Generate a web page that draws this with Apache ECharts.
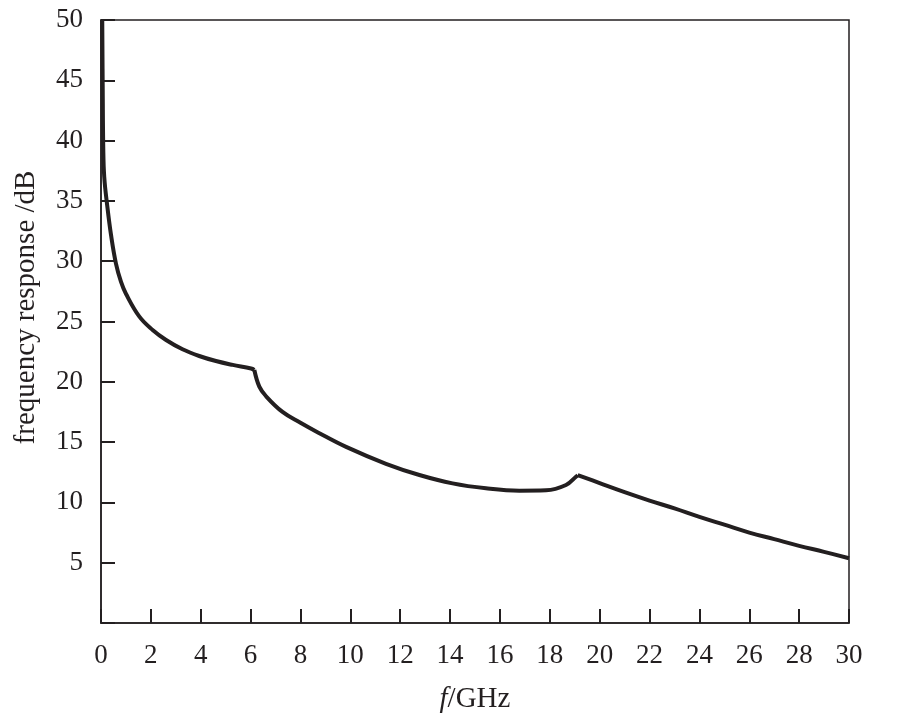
<!DOCTYPE html>
<html>
<head>
<meta charset="utf-8">
<script src="https://cdn.jsdelivr.net/npm/echarts@6/dist/echarts.min.js"></script>
<style>html,body{margin:0;padding:0;background:#fff;}#c{width:902px;height:720px;}</style>
</head>
<body>
<div id="c"></div>
<script>
const freqGHz = [0.05, 0.07, 0.09, 0.13, 0.25, 0.4, 0.6, 0.8, 1.0, 1.54, 2.07, 2.61, 3.27, 3.94, 4.61, 5.28, 6.02, 6.15,
  6.35, 6.62, 7.28, 8.0, 8.7, 9.83, 11.43, 12.77, 14.1, 15.44, 16.78, 17.85, 18.65, 19.05, 19.12,
  20, 21, 22, 23, 24, 25, 26, 27, 28, 29, 30];
const responseDB = [50, 44, 39.5, 37, 34.6, 32.2, 29.8, 28.3, 27.3, 25.4, 24.3, 23.47, 22.7, 22.14, 21.72, 21.4, 21.1, 20.98,
  19.6, 18.8, 17.5, 16.6, 15.8, 14.6, 13.2, 12.27, 11.58, 11.17, 10.97, 11.0, 11.44, 12.13, 12.27,
  11.6, 10.85, 10.15, 9.5, 8.8, 8.15, 7.5, 6.95, 6.4, 5.9, 5.37];
// frequencies where the curve has a sharp corner
const cornerFreqs = [6.15, 19.12];
const xTicks = [0, 2, 4, 6, 8, 10, 12, 14, 16, 18, 20, 22, 24, 26, 28, 30];
const yTicks = [5, 10, 15, 20, 25, 30, 35, 40, 45, 50];

const points = freqGHz.map((f, i) => [f, responseDB[i]]);
const segments = [];
let start = 0;
cornerFreqs.forEach(cf => {
  const idx = freqGHz.indexOf(cf);
  segments.push(points.slice(start, idx + 1));
  start = idx;
});
segments.push(points.slice(start));

const font = '"Liberation Serif", "DejaVu Serif", serif';
const chart = echarts.init(document.getElementById('c'));
chart.setOption({
  animation: false,
  backgroundColor: '#fff',
  grid: { left: 101, right: 53, top: 20, bottom: 97, show: true, borderColor: '#231f20', borderWidth: 1.5 },
  xAxis: {
    type: 'value', min: 0, max: 30, interval: 2,
    name: '{i|f}/GHz', nameLocation: 'middle', nameGap: 62,
    nameTextStyle: { fontFamily: font, fontSize: 29, color: '#231f20',
      rich: { i: { fontFamily: font, fontStyle: 'italic', fontSize: 29, color: '#231f20' } } },
    axisLine: { show: true, lineStyle: { color: '#231f20', width: 1.5 } },
    axisTick: { show: true, inside: true, length: 14, lineStyle: { color: '#231f20', width: 2 } },
    axisLabel: { fontFamily: font, fontSize: 27, color: '#231f20', margin: 19,
      formatter: v => xTicks.includes(v) ? String(v) : '' },
    splitLine: { show: false }
  },
  yAxis: {
    type: 'value', min: 0, max: 50, interval: 5,
    name: 'frequency response /dB', nameLocation: 'middle', nameGap: 60, nameRotate: 90,
    nameTextStyle: { fontFamily: font, fontSize: 29, color: '#231f20', padding: [0, 0, 0, 28] },
    axisLine: { show: true, lineStyle: { color: '#231f20', width: 1.5 } },
    axisTick: { show: true, inside: true, length: 14, lineStyle: { color: '#231f20', width: 2 } },
    axisLabel: { fontFamily: font, fontSize: 27, color: '#231f20', margin: 18,
      formatter: v => yTicks.includes(v) ? String(v) : '' },
    splitLine: { show: false }
  },
  series: segments.map(seg => ({
    type: 'line',
    data: seg,
    showSymbol: false,
    smooth: 0.4,
    clip: true,
    lineStyle: { color: '#231f20', width: 4, join: 'miter' }
  }))
});
</script>
</body>
</html>
